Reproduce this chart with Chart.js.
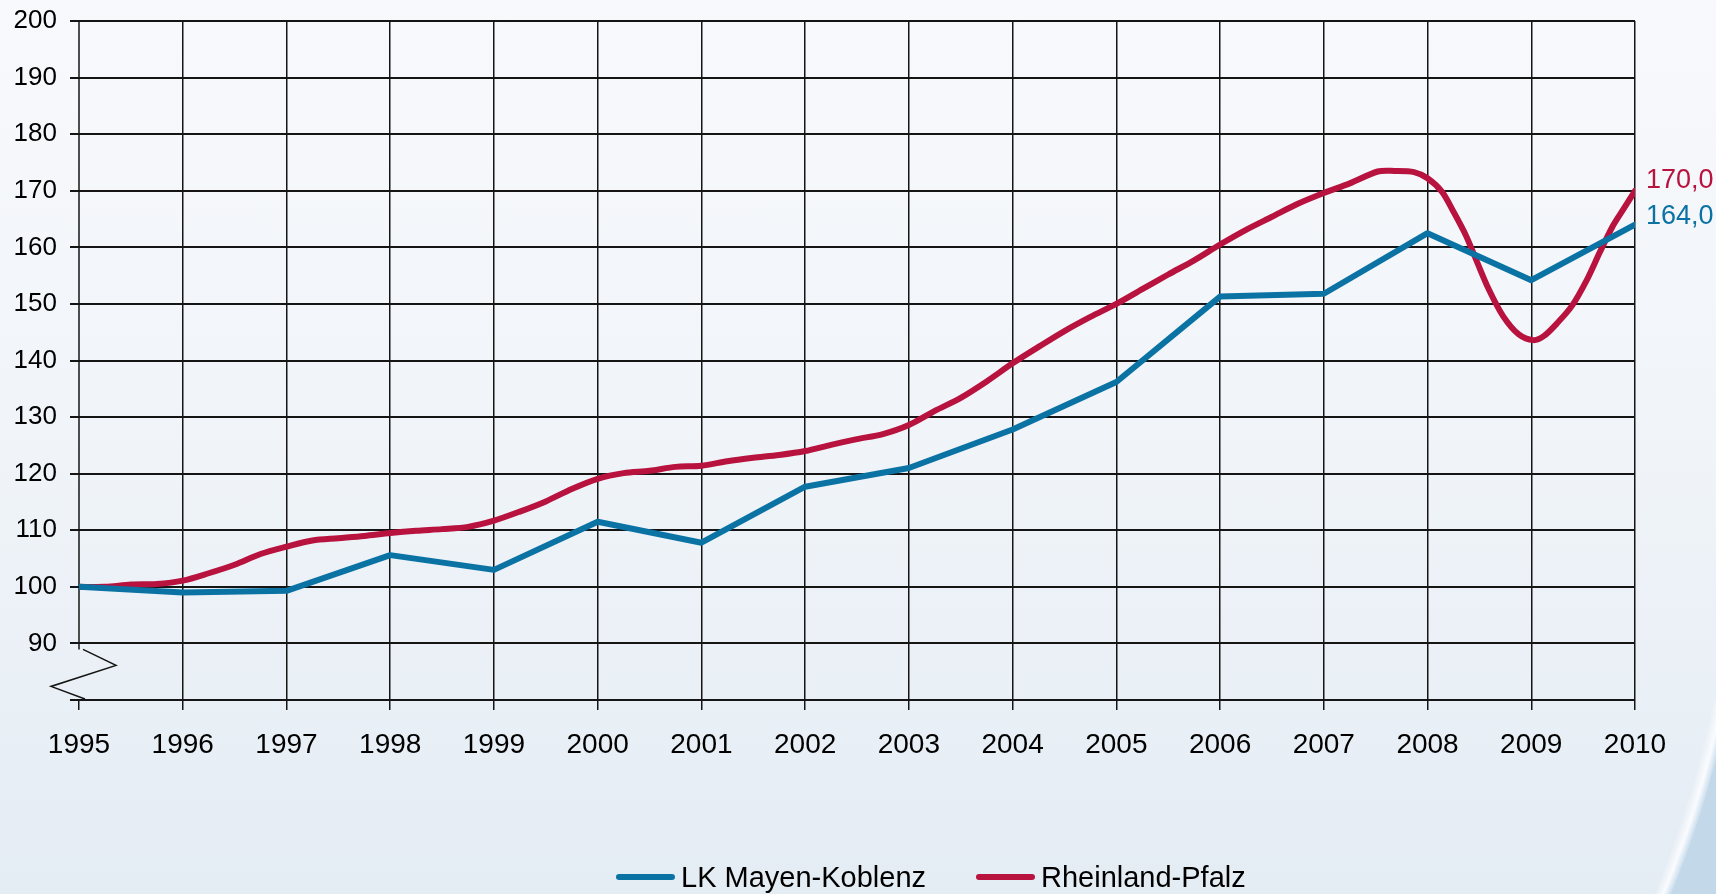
<!DOCTYPE html>
<html>
<head>
<meta charset="utf-8">
<script src="https://cdn.jsdelivr.net/npm/chart.js@4.4.1/dist/chart.umd.min.js"></script>
<style>
  html, body { margin: 0; padding: 0; overflow: hidden; }
  body {
    width: 1716px; height: 894px;
    background: linear-gradient(to bottom, #f8f9fc 0%, #f1f5f9 45%, #e4ecf4 100%);
    position: relative;
    font-family: "Liberation Sans", Arial, sans-serif;
  }
  #corner {
    position: absolute; left: 1600px; top: 700px; width: 116px; height: 194px;
    background: radial-gradient(ellipse 1000px 1017px at -851px -200px,
      rgba(255,255,255,0) 0%, rgba(255,255,255,0) 98.4%,
      rgba(252,253,255,0.9) 99.3%, #cadeed 100%, #c3d9ea 100%);
  }
  #wrap { position: absolute; left: 0; top: 0; width: 1716px; height: 894px; }
  #legend { position: absolute; left: 0; top: 877px; width: 1716px; height: 0; }
  .item { position: absolute; top: 0; height: 0; }
  .item .swatch { position: absolute; top: -3px; width: 59px; height: 6px; border-radius: 3px; }
  .item .text { position: absolute; left: 65px; top: -17px; font-size: 29px; line-height: 34px; color: #000; white-space: nowrap; }
</style>
</head>
<body>
<div id="corner"></div>
<div id="wrap"><canvas id="chart"></canvas></div>
<div id="legend"></div>
<script>
// LK Mayen-Koblenz, yearly index (1995 = 100)
const blueYears = [1995, 1996, 1997, 1998, 1999, 2000, 2001, 2002, 2003, 2004, 2005, 2006, 2007, 2008, 2009, 2010];
const blueValues = [100.0, 99.0, 99.3, 105.6, 103.0, 111.5, 107.8, 117.7, 121.0, 127.8, 136.2, 151.3, 151.8, 162.5, 154.2, 164.0];

// Rheinland-Pfalz, finer steps
const redYears = [1995, 1995.25, 1995.5, 1995.75, 1996, 1996.25, 1996.5, 1996.75,
  1997, 1997.25, 1997.5, 1997.75, 1998, 1998.25, 1998.5, 1998.75,
  1999, 1999.25, 1999.5, 1999.75, 2000, 2000.25, 2000.5, 2000.75,
  2001, 2001.25, 2001.5, 2001.75, 2002, 2002.25, 2002.5, 2002.75,
  2003, 2003.25, 2003.5, 2003.75, 2004, 2004.25, 2004.5, 2004.75,
  2005, 2005.25, 2005.5, 2005.75, 2006, 2006.25, 2006.5, 2006.75,
  2007, 2007.25, 2007.52, 2007.68, 2007.87, 2008, 2008.14, 2008.25,
  2008.37, 2008.48, 2008.59, 2008.73, 2008.88, 2009.02, 2009.12, 2009.25,
  2009.39, 2009.54, 2009.66, 2009.79, 2009.89, 2010];
const redValues = [100.0, 100.0, 100.4, 100.5, 101.1, 102.4, 103.9, 105.8,
  107.1, 108.2, 108.6, 109.0, 109.5, 109.9, 110.2, 110.6,
  111.7, 113.3, 115.1, 117.3, 119.1, 120.1, 120.5, 121.2,
  121.4, 122.2, 122.8, 123.3, 124.0, 125.1, 126.1, 127.0,
  128.6, 131.1, 133.4, 136.3, 139.5, 142.4, 145.2, 147.7,
  150.0, 152.6, 155.2, 157.7, 160.5, 163.1, 165.4, 167.7,
  169.6, 171.3, 173.4, 173.5, 173.3, 172.2, 169.8, 166.3,
  162.1, 157.3, 152.6, 147.8, 144.6, 143.6, 144.3, 146.6,
  149.6, 154.4, 159.1, 163.9, 166.8, 170.0];

const seriesNames = ['LK Mayen-Koblenz', 'Rheinland-Pfalz'];
const blueColor = '#0b72a4';
const redColor = '#b8123f';
const gridColor = '#151515';

// left axis with the break mark below 90
const axisBreak = {
  id: 'axisBreak',
  beforeDatasetsDraw(chart) {
    const ctx = chart.ctx;
    const y = chart.scales.y;
    const left = chart.chartArea.left;
    const y90 = y.getPixelForValue(90);
    const y80 = y.getPixelForValue(80);
    ctx.save();
    ctx.strokeStyle = gridColor;
    ctx.lineWidth = 1.5;
    ctx.beginPath();
    ctx.moveTo(left, chart.chartArea.top);
    ctx.lineTo(left, y90 + 6);
    ctx.stroke();
    ctx.beginPath();
    ctx.moveTo(left + 4, y90 + 6);
    ctx.lineTo(left + 37, y90 + 22);
    ctx.lineTo(left - 28, y90 + 43);
    ctx.lineTo(left + 6, y80 - 1);
    ctx.stroke();
    ctx.restore();
  }
};

// value labels at the end of each line
const endLabels = {
  id: 'endLabels',
  afterDatasetsDraw(chart) {
    const ctx = chart.ctx;
    ctx.save();
    ctx.font = '27px "Liberation Sans", Arial, sans-serif';
    ctx.textAlign = 'left';
    ctx.textBaseline = 'middle';
    chart.data.datasets.forEach((ds, i) => {
      const meta = chart.getDatasetMeta(i);
      const pt = meta.data[meta.data.length - 1];
      const last = ds.data[ds.data.length - 1].y;
      ctx.fillStyle = ds.borderColor;
      ctx.fillText(last.toFixed(1).replace('.', ','), pt.x + 11, pt.y + (i === 1 ? -10 : -8));
    });
    ctx.restore();
  }
};

const chart = new Chart(document.getElementById('chart'), {
  type: 'line',
  data: {
    datasets: [{
      label: seriesNames[0],
      data: blueYears.map((x, i) => ({ x, y: blueValues[i] })),
      borderColor: blueColor,
      backgroundColor: blueColor,
      borderWidth: 6,
      pointRadius: 0,
      tension: 0,
      borderJoinStyle: 'round',
      borderCapStyle: 'round'
    }, {
      label: seriesNames[1],
      data: redYears.map((x, i) => ({ x, y: redValues[i] })),
      borderColor: redColor,
      backgroundColor: redColor,
      borderWidth: 6,
      pointRadius: 0,
      tension: 0.3,
      borderJoinStyle: 'round',
      borderCapStyle: 'round'
    }]
  },
  options: {
    responsive: true,
    maintainAspectRatio: false,
    animation: false,
    layout: { padding: { top: 21, right: 81, left: 0, bottom: 0 } },
    plugins: {
      tooltip: { enabled: false },
      legend: { display: false }
    },
    scales: {
      x: {
        type: 'linear',
        min: 1995,
        max: 2010,
        afterFit(scale) { scale.height = 194; },
        ticks: {
          stepSize: 1,
          padding: 18,
          color: '#000',
          font: { family: '"Liberation Sans", Arial, sans-serif', size: 28 },
          callback: v => String(v)
        },
        grid: {
          color: c => c.index === 0 ? 'rgba(0,0,0,0)' : gridColor,
          tickColor: gridColor,
          lineWidth: 1.5,
          tickLength: 10
        },
        border: { display: true, color: gridColor, width: 2 }
      },
      y: {
        min: 80,
        max: 200,
        afterFit(scale) {
          scale.width = 79;
          scale.paddingTop = 0;
          scale.paddingBottom = 0;
        },
        ticks: {
          stepSize: 10,
          padding: 13,
          color: '#000',
          font: { family: '"Liberation Sans", Arial, sans-serif', size: 26 },
          callback: v => v === 80 ? '' : String(v)
        },
        grid: {
          color: gridColor,
          lineWidth: 2,
          tickLength: 9
        },
        border: { display: false }
      }
    }
  },
  plugins: [axisBreak, endLabels]
});

// legend below the chart, built from the datasets
const legendLeft = [616, 976];
const legendEl = document.getElementById('legend');
chart.data.datasets.forEach((ds, i) => {
  const item = document.createElement('div');
  item.className = 'item';
  item.style.left = legendLeft[i] + 'px';
  const swatch = document.createElement('div');
  swatch.className = 'swatch';
  swatch.style.background = ds.borderColor;
  const text = document.createElement('div');
  text.className = 'text';
  text.textContent = ds.label;
  item.appendChild(swatch);
  item.appendChild(text);
  legendEl.appendChild(item);
});
</script>
</body>
</html>
